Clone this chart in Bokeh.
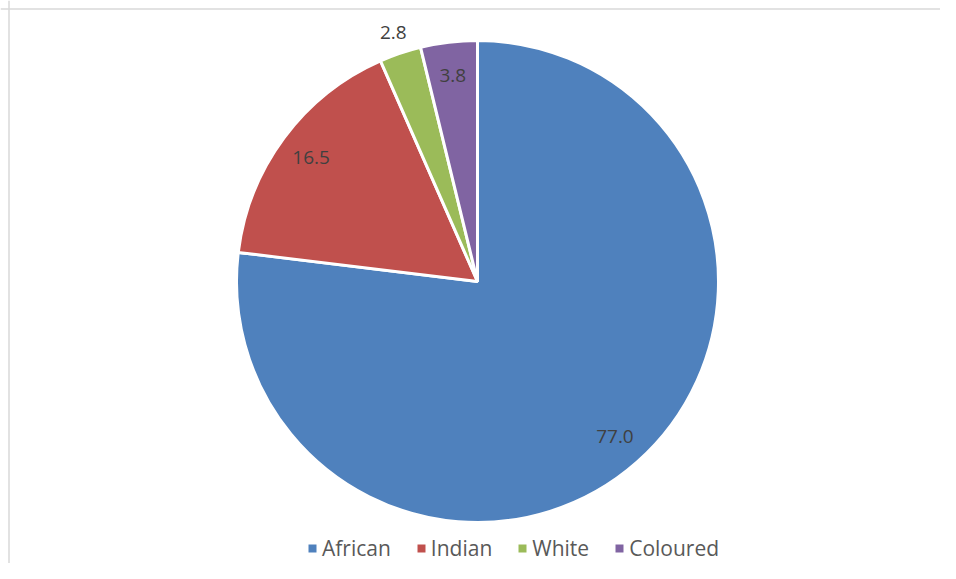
import numpy as np
from bokeh.plotting import figure
from bokeh.models import Range1d, Legend, LegendItem, Span, ColumnDataSource
from bokeh.core.properties import value
from bokeh.embed import file_html
from bokeh.resources import INLINE

categories = ["African", "Indian", "White", "Coloured"]
shares = [77.0, 16.5, 2.8, 3.8]
labels = ["77.0", "16.5", "2.8", "3.8"]
colors = ["#4f81bd", "#c0504d", "#9bbb59", "#8064a2"]

W, H = 940, 563
cx, cy, R = 477, H - 281, 241

vals = np.array(shares)
frac = vals / vals.sum()
cum_end = np.cumsum(frac)
cum_start = cum_end - frac
start = np.pi / 2 - 2 * np.pi * cum_end
end = np.pi / 2 - 2 * np.pi * cum_start
mid = (start + end) / 2
rf = np.where(frac < 0.03, 1.09, 0.86)
lx = cx + R * rf * np.cos(mid)
ly = cy + R * rf * np.sin(mid)

src = ColumnDataSource(dict(cat=categories, start=start, end=end, color=colors,
                            lx=lx, ly=ly, lab=labels))

p = figure(width=W, height=H, output_backend="svg", toolbar_location=None,
           x_range=Range1d(0, W), y_range=Range1d(0, H), min_border=0)
p.axis.visible = False
p.grid.visible = False
p.outline_line_color = None
p.background_fill_color = "white"
p.border_fill_color = "white"

p.wedge(x=cx, y=cy, radius=R, start_angle="start", end_angle="end",
        fill_color="color", line_color="white", line_width=3, source=src)

p.text(x="lx", y="ly", text="lab", source=src, text_align="center",
       text_baseline="middle", text_font=value("Open Sans"),
       text_font_size="19px", text_color="#404040")

items = []
for c, col in zip(categories, colors):
    r = p.quad(left=[np.nan], right=[np.nan], top=[np.nan], bottom=[np.nan],
               fill_color=col, line_color=None)
    items.append(LegendItem(label=c, renderers=[r]))

legend = Legend(items=items, orientation="horizontal", location=(307, 1),
                border_line_color=None, background_fill_alpha=0, padding=0, margin=0,
                spacing=25, label_standoff=5, glyph_width=10, glyph_height=10,
                label_height=20, label_text_font="Open Sans",
                label_text_font_size="21px", label_text_color="#595959")
p.add_layout(legend)

p.add_layout(Span(location=H - 8.5, dimension="width", line_color="#d9d9d9", line_width=1.5))
p.add_layout(Span(location=8.5, dimension="height", line_color="#d9d9d9", line_width=1.5))

open("out.html", "w").write(file_html(p, INLINE))
